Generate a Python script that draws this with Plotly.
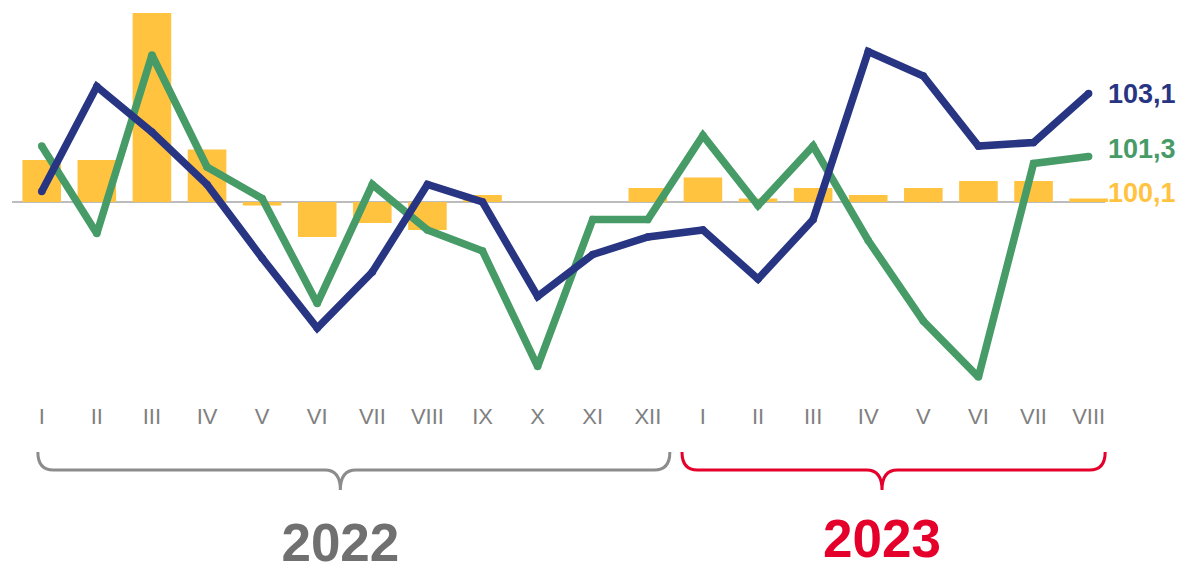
import plotly.graph_objects as go

months = ['I', 'II', 'III', 'IV', 'V', 'VI', 'VII', 'VIII', 'IX', 'X', 'XI', 'XII',
          'I', 'II', 'III', 'IV', 'V', 'VI', 'VII', 'VIII']
navy_vals = [100.3, 103.3, 102.0, 100.5, 98.4, 96.4, 98.0, 100.5, 100.0, 97.3, 98.5, 99.0,
             99.2, 97.8, 99.5, 104.3, 103.6, 101.6, 101.7, 103.1]
green_vals = [101.6, 99.1, 104.2, 101.0, 100.1, 97.1, 100.5, 99.2, 98.6, 95.3, 99.5, 99.5,
              101.9, 99.9, 101.6, 98.9, 96.6, 95.0, 101.1, 101.3]
bar_vals = [101.2, 101.2, 105.4, 101.5, 99.9, 99.0, 99.4, 99.2, 100.2, 100.0, 100.0, 100.4,
            100.7, 100.1, 100.4, 100.2, 100.4, 100.6, 100.6, 100.1]
years = ['2022', '2023']
year_spans = [(-0.07, 11.40), (11.62, 19.30)]
year_tips = [5.42, 15.25]

NAVY = '#283583'
GREEN = '#469B67'
YELLOW = '#FFC33F'
RED = '#E4002B'
GRAY = '#707070'
FONT = 'Liberation Sans, Arial, sans-serif'

x = list(range(len(months)))
base = 100

# the page body has an 8px margin, so the figure is drawn 8px in from the corner
W, H = 1178, 558
PLOT_H = 382
LOW_H = H - PLOT_H
Y_LO, Y_HI = 94.629, 105.543


def py(screen_y):
    # screen pixel -> paper fraction (whole figure height)
    return (H - (screen_y - 8)) / H


def y2(screen_y):
    # screen pixel -> value on the lower helper axis (0..1)
    return (H - (screen_y - 8)) / LOW_H


fig = go.Figure()
fig.add_trace(go.Bar(
    x=x, y=[v - base for v in bar_vals], base=base,
    marker=dict(color=YELLOW, line=dict(width=0)),
    width=0.7, showlegend=False
))
for vals, col in [(green_vals, GREEN), (navy_vals, NAVY)]:
    fig.add_trace(go.Scatter(
        x=x, y=vals, mode='lines+markers',
        line=dict(color=col, width=7.5),
        marker=dict(color=col, size=7.5),
        showlegend=False
    ))

# baseline at 100
fig.add_shape(type='line', xref='x', yref='y', x0=-0.54, x1=19.3, y0=base, y1=base,
              line=dict(color='#A6A6A6', width=1.5), layer='below')


def fmt(v):
    return f'{v:.1f}'.replace('.', ',')


for vals, col, ys in [(navy_vals, NAVY, 0), (green_vals, GREEN, 8), (bar_vals, YELLOW, 6)]:
    fig.add_annotation(x=x[-1], y=vals[-1], xref='x', yref='y', text=fmt(vals[-1]),
                       showarrow=False, xanchor='left', xshift=17, yshift=ys,
                       font=dict(family=FONT, size=27, color=col, weight='bold'))

# year braces
for (x0, x1), tip_x, lc in zip(year_spans, year_tips, ['#8C8C8C', RED]):
    top, hor, tip = py(452), py(470), py(490)
    r = 0.28
    path = (f'M {x0},{top} Q {x0},{hor} {x0 + r},{hor} L {tip_x - r},{hor} '
            f'Q {tip_x},{hor} {tip_x},{tip} Q {tip_x},{hor} {tip_x + r},{hor} '
            f'L {x1 - r},{hor} Q {x1},{hor} {x1},{top}')
    fig.add_shape(type='path', xref='x', yref='paper', path=path,
                  line=dict(color=lc, width=3))

# year labels on a helper axis covering the strip under the chart
fig.add_trace(go.Scatter(
    x=year_tips, y=[y2(548), y2(544)], yaxis='y2', mode='text', text=years,
    textposition='middle center', cliponaxis=False, showlegend=False,
    textfont=dict(family=FONT, size=53, color=[GRAY, RED], weight='bold'),
    hoverinfo='skip'
))

fig.update_layout(
    width=W, height=H,
    margin=dict(l=0, r=0, t=0, b=0),
    plot_bgcolor='white', paper_bgcolor='white',
    xaxis=dict(range=[-0.612, 20.767], tickvals=x, ticktext=months, anchor='y',
               showgrid=False, zeroline=False, showline=False, ticks='',
               ticklabelstandoff=11,
               tickfont=dict(family=FONT, size=22, color='#808080')),
    yaxis=dict(range=[Y_LO, Y_HI], domain=[LOW_H / H, 1], visible=False,
               showgrid=False, zeroline=False),
    yaxis2=dict(range=[0, 1], domain=[0, LOW_H / H], anchor='x', visible=False,
                showgrid=False, zeroline=False),
)

fig.write_html('out.html')
